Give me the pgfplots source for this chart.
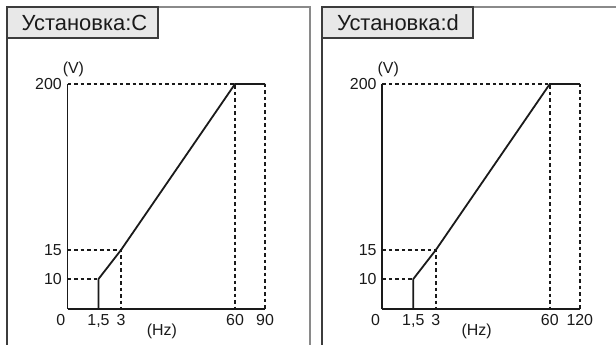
\documentclass[border=0pt]{standalone}
\usepackage{pgfplots}
\pgfplotsset{compat=1.18}
\usepackage{fontspec}
\setmainfont{Liberation Sans}
\definecolor{frameA}{HTML}{3C3C3C}
\definecolor{frameB}{HTML}{8A8A8A}
\definecolor{titlefill}{HTML}{E8E8E8}
\definecolor{ink}{HTML}{1A1A1A}
\pgfplotsset{
  vfchart/.style={
    anchor=south west,
    scale only axis, width=197.5bp, height=225bp,
    xmin=0, ymin=0, ymax=200,
    axis lines=left,
    axis line style={-, line width=1.8bp, ink},
    major tick length=0pt,
    ytick={10,15,200}, yticklabels={10,15,200},
    tick label style={font=\fontsize{16}{18}\selectfont, text=ink},
    yticklabel style={xshift=-2.2bp},
    xticklabel style={yshift=-2bp},
    y coord trafo/.code={\pgfmathparse{(##1<=10) ? (##1*3) : ((##1<=15) ? (30+(##1-10)*5.8) : (59+(##1-15)*0.8973))}},
    clip=false,
  },
  curve/.style={ink, line width=1.8bp, line join=miter},
  dash/.style={ink, line width=1.5bp, dash pattern=on 3.5bp off 3bp},
}
\begin{document}
\begin{tikzpicture}
\useasboundingbox (0,0) rectangle (616bp,-345bp);
% panel frames
\draw[frameB, line width=1.6bp] (7bp,-7bp) -- (310bp,-7bp) -- (310bp,-346bp);
\draw[frameA, line width=1.5bp] (7bp,-7bp) -- (7bp,-346bp);
\draw[frameB, line width=1.6bp] (322bp,-7bp) -- (617bp,-7bp);
\draw[frameA, line width=1.5bp] (322bp,-7bp) -- (322bp,-346bp);
% title boxes
\draw[fill=titlefill, draw=frameA, line width=1.1bp] (7bp,-7bp) rectangle (158bp,-38bp);
\node[font=\fontsize{22}{24}\selectfont, text=ink] at (84.5bp,-22.5bp) {Установка:C};
\draw[fill=titlefill, draw=frameA, line width=1.1bp] (322bp,-7bp) rectangle (473bp,-38bp);
\node[font=\fontsize{22}{24}\selectfont, text=ink] at (398bp,-22.5bp) {Установка:d};

% left chart
\begin{axis}[vfchart, at={(67.5bp,-309bp)},
  xmax=90,
  x coord trafo/.code={\pgfmathparse{(#1<=1.5) ? (#1*20.6667) : ((#1<=3) ? (31+(#1-1.5)*15) : ((#1<=60) ? (53.5+(#1-3)*2) : (167.5+(#1-60))))}},
  xtick={0,1.5,3,60,90},
  xticklabels={\llap{0\hspace{2.2bp}},{1,5},3,60,90},
]
\addplot[dash] coordinates {(0,10) (1.5,10)};
\addplot[dash] coordinates {(0,15) (3,15) (3,0)};
\addplot[dash] coordinates {(0,200) (60,200) (60,0)};
\addplot[dash] coordinates {(90,200) (90,0)};
\addplot[curve] coordinates {(1.5,0) (1.5,10) (3,15) (60,200) (90,200)};
\node[font=\fontsize{16}{18}\selectfont, text=ink] at (rel axis cs:0.03,1) [yshift=15bp] {(V)};
\node[font=\fontsize{16}{18}\selectfont, text=ink] at (rel axis cs:0.478,0) [yshift=-22bp] {(Hz)};
\end{axis}

% right chart
\begin{axis}[vfchart, at={(382.3bp,-309bp)},
  xmax=120,
  x coord trafo/.code={\pgfmathparse{(#1<=1.5) ? (#1*20.6667) : ((#1<=3) ? (31+(#1-1.5)*15) : ((#1<=60) ? (53.5+(#1-3)*2) : (167.5+(#1-60)*0.5)))}},
  xtick={0,1.5,3,60,120},
  xticklabels={\llap{0\hspace{2.2bp}},{1,5},3,60,120},
]
\addplot[dash] coordinates {(0,10) (1.5,10)};
\addplot[dash] coordinates {(0,15) (3,15) (3,0)};
\addplot[dash] coordinates {(0,200) (60,200) (60,0)};
\addplot[dash] coordinates {(120,200) (120,0)};
\addplot[curve] coordinates {(1.5,0) (1.5,10) (3,15) (60,200) (120,200)};
\node[font=\fontsize{16}{18}\selectfont, text=ink] at (rel axis cs:0.03,1) [yshift=15bp] {(V)};
\node[font=\fontsize{16}{18}\selectfont, text=ink] at (rel axis cs:0.478,0) [yshift=-22bp] {(Hz)};
\end{axis}
\end{tikzpicture}
\end{document}
